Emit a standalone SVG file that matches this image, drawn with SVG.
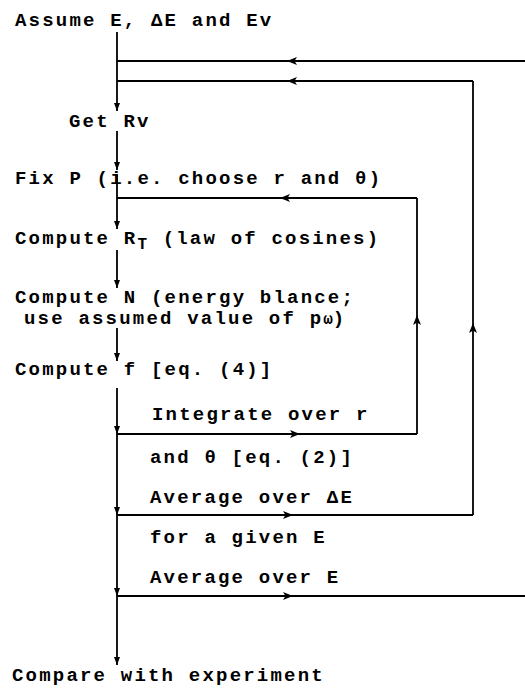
<svg xmlns="http://www.w3.org/2000/svg" width="525" height="688" viewBox="0 0 525 688">
<defs>
<style>
text{font-family:"Liberation Mono","DejaVu Sans Mono",monospace;font-size:19px;letter-spacing:2.2px;fill:#000;font-weight:bold}
.sub{font-size:16px;letter-spacing:0}
.ln{fill:none;stroke:#000;stroke-width:1.8}
.m{marker-mid:url(#mid)}
.e{marker-end:url(#dn)}
.me{marker-mid:url(#dn);marker-end:url(#dn)}
</style>
<marker id="dn" markerUnits="userSpaceOnUse" viewBox="0 0 8 6" refX="8" refY="3" markerWidth="8" markerHeight="6" orient="auto">
<path d="M0,0 L8,3 L0,6 z" fill="#000"/>
</marker>
<marker id="mid" markerUnits="userSpaceOnUse" viewBox="0 0 10 8" refX="10" refY="4" markerWidth="10" markerHeight="8" orient="auto">
<path d="M0,0 L10,4 L0,8 L2.5,4 z" fill="#000"/>
</marker>
</defs>
<rect width="525" height="688" fill="#fff"/>
<g id="n1"><text x="15" y="26">Assume E, ΔE and Ev</text></g>
<g id="n2"><text x="69" y="127">Get Rv</text></g>
<g id="n3"><text x="15" y="184">Fix P (i.e. choose r and θ)</text></g>
<g id="n4"><text x="15" y="244">Compute R<tspan class="sub" dy="5">T</tspan><tspan dy="-5" dx="2"> (law of cosines)</tspan></text></g>
<g id="n5"><text x="15" y="303">Compute N (energy blance;</text><text x="24" y="324">use assumed value of p<tspan class="sub">ω</tspan>)</text></g>
<g id="n6"><text x="15" y="375">Compute f [eq. (4)]</text></g>
<g id="n7"><text x="152" y="420">Integrate over r</text><text x="150" y="463">and θ [eq. (2)]</text></g>
<g id="n8"><text x="150" y="503">Average over ΔE</text><text x="150" y="543">for a given E</text></g>
<g id="n9"><text x="150" y="583">Average over E</text></g>
<g id="n10"><text x="12" y="681">Compare with experiment</text></g>
<g id="connectors">
<path class="ln e" d="M117,32 V111"/>
<path class="ln e" d="M117,131 V170"/>
<path class="ln e" d="M117,174 V229"/>
<path class="ln e" d="M117,250 V288"/>
<path class="ln e" d="M117,328 V361"/>
<path class="ln me" d="M117,388 V434 V515 V596 V665"/>
<path class="ln m" d="M525,61 H287 H117"/>
<path class="ln m" d="M117,515 H293 H473"/>
<path class="ln m" d="M473,515 V323 V81"/>
<path class="ln m" d="M473,81 H287 H117"/>
<path class="ln m" d="M117,434 H300 H417"/>
<path class="ln m" d="M417,434 V315 V198"/>
<path class="ln m" d="M417,198 H280 H117"/>
<path class="ln m" d="M117,596 H293 H525"/>
</g>
</svg>
